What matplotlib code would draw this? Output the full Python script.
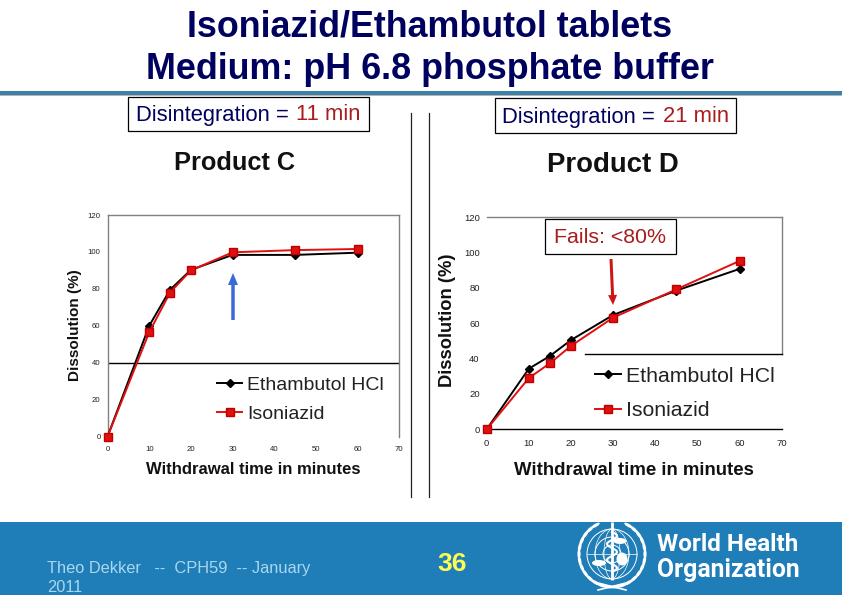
import numpy as np
import matplotlib
matplotlib.use("Agg")
import matplotlib.pyplot as plt
from matplotlib.patches import Rectangle, Ellipse, Circle, FancyArrow
from matplotlib.lines import Line2D

# ---- data ----
time_c = [0, 10, 15, 20, 30, 45, 60]
etham_c = [0, 60, 79.5, 90.3, 98.4, 98.4, 99.6]
iso_c = [0, 56.5, 78, 90, 99.8, 101, 101.6]
time_d = [0, 10, 15, 20, 30, 45, 60]
etham_d = [0, 34.3, 41.5, 50.5, 64.7, 78.5, 90.8]
iso_d = [0, 29, 37.4, 47.2, 63.2, 79.2, 95.3]
x_ticks = [0, 10, 20, 30, 40, 50, 60, 70]
y_ticks = [0, 20, 40, 60, 80, 100, 120]
series_names = ["Ethambutol HCl", "Isoniazid"]
title_lines = ["Isoniazid/Ethambutol tablets", "Medium: pH 6.8 phosphate buffer"]
footer_lines = ["Theo Dekker   --  CPH59  -- January", "2011"]

W, H = 842, 595
plt.rcParams['font.family'] = ['Liberation Sans', 'DejaVu Sans']
fig = plt.figure(figsize=(W / 100, H / 100), dpi=100, facecolor='white')

bg = fig.add_axes([0, 0, 1, 1], zorder=0)
bg.set_xlim(0, W); bg.set_ylim(H, 0); bg.axis('off')
fg = fig.add_axes([0, 0, 1, 1], zorder=5)
fg.set_xlim(0, W); fg.set_ylim(H, 0); fg.axis('off'); fg.patch.set_alpha(0)

NAVY = '#00005e'
DRED = '#a81c1c'
BLUE = '#1f7db8'


def make_axes(x0, x1, ytop, ybot):
    return fig.add_axes([x0 / W, 1 - ybot / H, (x1 - x0) / W, (ybot - ytop) / H], zorder=2)


def plot_panel(ax, t, e, i, tick_size, grey_left, xpad):
    ax.set_xlim(0, 70); ax.set_ylim(0, 120)
    ax.patch.set_alpha(0)
    ax.plot(t, e, color='black', lw=1.4, marker='D', ms=4.4, clip_on=False, zorder=3, label=series_names[0])
    ax.plot(t, i, color='#e01010', lw=1.4, marker='s', ms=5.2, mec='#c00000', clip_on=False, zorder=4, label=series_names[1])
    ax.set_xticks(x_ticks); ax.set_yticks(y_ticks)
    ax.tick_params(length=0, labelsize=tick_size, colors='#222222')
    ax.tick_params(axis='x', pad=xpad)
    ax.tick_params(axis='y', pad=5)
    for s in ax.spines.values():
        s.set_color('#808080'); s.set_linewidth(1)
    ax.spines['left'].set_visible(grey_left)


# ---- header ----
bg.add_patch(Rectangle((0, 94.5), W, 1.5, color='#b5b5b5', lw=0))
bg.add_patch(Rectangle((0, 91), W, 3.8, color='#3d80a8', lw=0))
for y, s in zip([27, 69.5], title_lines):
    bg.text(430, y, s, ha='center', va='center', fontsize=25.8, fontweight='bold', color=NAVY)

# ---- dividers ----
bg.plot([411, 411], [113, 497], color='#222222', lw=0.9)
bg.plot([428.5, 428.5], [113, 497], color='#222222', lw=0.9)

# ---- disintegration boxes ----
fg.add_patch(Rectangle((127.5, 96.5), 241, 34, fc='white', ec='black', lw=0.9))
fg.text(135.5, 115, "Disintegration = ", ha='left', va='center', fontsize=15.8, color=NAVY)
fg.text(296, 115, "11 min", ha='left', va='center', fontsize=15.8, color=DRED)
fg.add_patch(Rectangle((494.5, 97.5), 241, 35, fc='white', ec='black', lw=0.9))
fg.text(502.5, 117, "Disintegration = ", ha='left', va='center', fontsize=15.8, color=NAVY)
fg.text(663, 117, "21 min", ha='left', va='center', fontsize=15.8, color=DRED)

fg.text(234.5, 163, "Product C", ha='center', va='center', fontsize=18.3, fontweight='bold', color='#111111')
fg.text(613, 165, "Product D", ha='center', va='center', fontsize=19.8, fontweight='bold', color='#111111')

# ---- panel C ----
axc = make_axes(107.5, 399.3, 215, 436.7)
plot_panel(axc, time_c, etham_c, iso_c, 5.6, True, 7)
axc.spines['bottom'].set_visible(False)
axc.axhline(40, color='black', lw=1, zorder=1)
axc.set_xlabel("Withdrawal time in minutes", fontsize=12, fontweight='bold', labelpad=6.5, color='#111111')
fg.text(75, 325, "Dissolution (%)", rotation=90, ha='center', va='center', fontsize=11, fontweight='bold', color='#111111')
axc.legend(loc='upper left', bbox_to_anchor=(217, 376.5), bbox_transform=fg.transData, frameon=False,
           fontsize=14, borderpad=0, borderaxespad=0, handlelength=1.3, handletextpad=0.25,
           labelspacing=0.57, labelcolor='#222222')

# ---- panel D ----
axd = make_axes(486.7, 781.7, 217.3, 429.3)
plot_panel(axd, time_d, etham_d, iso_d, 6.8, False, 7)
axd.spines['bottom'].set_color('black')
axd.spines['right'].set_bounds(42.4, 120)
fg.add_line(Line2D([585, 782], [354.3, 354.3], color='black', lw=1))
axd.set_xlabel("Withdrawal time in minutes", fontsize=13.4, fontweight='bold', labelpad=10, color='#111111')
fg.text(447, 320, "Dissolution (%)", rotation=90, ha='center', va='center', fontsize=13.2, fontweight='bold', color='#111111')
axd.legend(loc='upper left', bbox_to_anchor=(595, 366.5), bbox_transform=fg.transData, frameon=False,
           fontsize=15.3, borderpad=0, borderaxespad=0, handlelength=1.2, handletextpad=0.25,
           labelspacing=0.73, labelcolor='#222222')

# ---- annotations ----
fg.add_patch(Rectangle((544.5, 218.5), 131, 35, fc='white', ec='black', lw=0.9))
fg.text(610, 237.5, "Fails: <80%", ha='center', va='center', fontsize=15.4, color=DRED)
fg.add_patch(FancyArrow(611, 259, 2, 46, width=3, head_width=9, head_length=10,
                        length_includes_head=True, color='#cc1515', lw=0))
fg.add_patch(FancyArrow(233, 320, 0, -47, width=3.5, head_width=10, head_length=12,
                        length_includes_head=True, color='#3a6ad8', lw=0))

# ---- footer ----
bg.add_patch(Rectangle((0, 522), W, 73, color=BLUE, lw=0))
for y, s in zip([568.5, 587], footer_lines):
    bg.text(47, y, s, ha='left', va='center', fontsize=11.8, color='#a8d8f0')
bg.text(452, 564, "36", ha='center', va='center', fontsize=19, fontweight='bold', color='#ffff55')
bg.text(657, 544.5, "World Health", ha='left', va='center', fontsize=17.5,
        fontweight='bold', color='white', family=['Roboto', 'Liberation Sans'])
bg.text(657, 570, "Organization", ha='left', va='center', fontsize=17.8,
        fontweight='bold', color='white', family=['Roboto', 'Liberation Sans'])

# ---- WHO emblem (decorative) ----
cx, cy = 612, 554
for r in (25, 17, 9):
    bg.add_patch(Circle((cx, cy), r, fc='none', ec='white', lw=0.7))
for rx in (17, 8):
    bg.add_patch(Ellipse((cx, cy), 2 * rx, 50, fc='none', ec='white', lw=0.5))
bg.plot([cx - 25, cx + 25], [cy, cy], color='white', lw=0.5)
bg.add_patch(Ellipse((cx - 13, cy + 9), 14, 6, fc='white', ec='none'))
bg.add_patch(Ellipse((cx + 10, cy + 5), 11, 13, fc='white', ec='none'))
bg.add_patch(Ellipse((cx + 8, cy - 13), 13, 6, fc='white', ec='none'))
bg.plot([cx, cx], [522, 580], color='white', lw=2, solid_capstyle='butt')
snake_y = np.linspace(532, 572, 60)
bg.plot(cx + 5 * np.sin((snake_y - 532) / 40 * 5 * np.pi), snake_y, color='white', lw=1.5)
for side in (-1, 1):
    for a in np.radians(np.arange(-60, 85, 12)):
        lx = cx + side * 33 * np.cos(a)
        ly = cy + 33 * np.sin(a)
        bg.add_patch(Ellipse((lx, ly), 3.2, 9.5, angle=side * np.degrees(a), fc='white', ec='none'))
bg.plot([cx - 14, cx + 14], [590, 583], color='white', lw=1.2)
bg.plot([cx - 14, cx + 14], [583, 590], color='white', lw=1.2)

fig.savefig("out.png", dpi=100)
